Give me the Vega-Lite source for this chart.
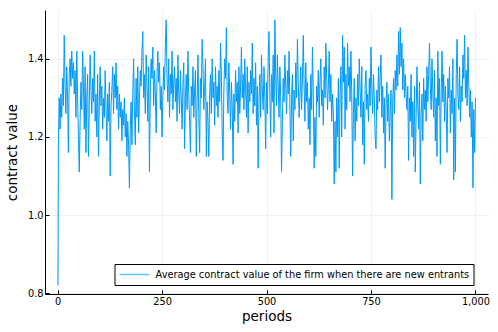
{"$schema":"https://vega.github.io/schema/vega-lite/v6.json","width":443,"height":284,"autosize":{"type":"none"},"padding":{"left":45,"top":10,"right":10,"bottom":38},"background":"white",
"config":{"view":{"stroke":null},"font":"DejaVu Sans","axis":{"domainColor":"black","domainWidth":1,"tickColor":"black","tickSize":-4,"gridColor":"#000000","gridOpacity":0.1,"gridWidth":0.6,"labelFont":"DejaVu Sans","labelFontSize":9.8,"labelColor":"black","titleFont":"DejaVu Sans","titleFontSize":13.5,"titleFontWeight":"normal","titleColor":"black"}},
"data":{"values":[
{"p":1,"v":0.82},
{"p":2,"v":1.18},{"p":4,"v":1.30},{"p":6,"v":1.22},{"p":8,"v":1.31},{"p":10,"v":1.25},{"p":12,"v":1.35},{"p":14,"v":1.28},{"p":16,"v":1.46},{"p":18,"v":1.33},{"p":20,"v":1.26},
{"p":22,"v":1.38},{"p":24,"v":1.30},{"p":26,"v":1.16},{"p":28,"v":1.36},{"p":30,"v":1.40},{"p":32,"v":1.33},{"p":34,"v":1.42},{"p":36,"v":1.35},{"p":38,"v":1.39},{"p":40,"v":1.31},
{"p":42,"v":1.37},{"p":44,"v":1.25},{"p":46,"v":1.42},{"p":48,"v":1.30},{"p":50,"v":1.20},{"p":52,"v":1.11},{"p":54,"v":1.24},{"p":56,"v":1.34},{"p":58,"v":1.27},{"p":60,"v":1.42},
{"p":62,"v":1.33},{"p":64,"v":1.22},{"p":66,"v":1.38},{"p":68,"v":1.16},{"p":70,"v":1.30},{"p":72,"v":1.36},{"p":74,"v":1.15},{"p":76,"v":1.28},{"p":78,"v":1.41},{"p":80,"v":1.32},
{"p":82,"v":1.26},{"p":84,"v":1.35},{"p":86,"v":1.29},{"p":88,"v":1.42},{"p":90,"v":1.24},{"p":92,"v":1.31},{"p":94,"v":1.20},{"p":96,"v":1.36},{"p":98,"v":1.15},{"p":100,"v":1.29},
{"p":102,"v":1.38},{"p":104,"v":1.28},{"p":106,"v":1.33},{"p":108,"v":1.22},{"p":110,"v":1.30},{"p":112,"v":1.25},{"p":114,"v":1.37},{"p":116,"v":1.27},{"p":118,"v":1.19},{"p":120,"v":1.31},
{"p":122,"v":1.24},{"p":124,"v":1.34},{"p":126,"v":1.10},{"p":128,"v":1.28},{"p":130,"v":1.32},{"p":132,"v":1.38},{"p":134,"v":1.26},{"p":136,"v":1.36},{"p":138,"v":1.30},{"p":140,"v":1.39},
{"p":142,"v":1.27},{"p":144,"v":1.33},{"p":146,"v":1.22},{"p":148,"v":1.31},{"p":150,"v":1.25},{"p":152,"v":1.29},{"p":154,"v":1.19},{"p":156,"v":1.27},{"p":158,"v":1.23},{"p":160,"v":1.30},
{"p":162,"v":1.20},{"p":164,"v":1.26},{"p":166,"v":1.15},{"p":168,"v":1.24},{"p":170,"v":1.18},{"p":172,"v":1.07},{"p":174,"v":1.22},{"p":176,"v":1.29},{"p":178,"v":1.18},{"p":180,"v":1.31},
{"p":182,"v":1.40},{"p":184,"v":1.27},{"p":186,"v":1.18},{"p":188,"v":1.35},{"p":190,"v":1.25},{"p":192,"v":1.38},{"p":194,"v":1.21},{"p":196,"v":1.30},{"p":198,"v":1.37},{"p":200,"v":1.33},
{"p":202,"v":1.42},{"p":204,"v":1.47},{"p":206,"v":1.30},{"p":208,"v":1.36},{"p":210,"v":1.26},{"p":212,"v":1.41},{"p":214,"v":1.33},{"p":216,"v":1.24},{"p":218,"v":1.38},{"p":220,"v":1.11},
{"p":222,"v":1.32},{"p":224,"v":1.40},{"p":226,"v":1.35},{"p":228,"v":1.43},{"p":230,"v":1.28},{"p":232,"v":1.37},{"p":234,"v":1.31},{"p":236,"v":1.21},{"p":238,"v":1.36},{"p":240,"v":1.42},
{"p":242,"v":1.34},{"p":244,"v":1.39},{"p":246,"v":1.27},{"p":248,"v":1.33},{"p":250,"v":1.20},{"p":252,"v":1.30},{"p":254,"v":1.38},{"p":256,"v":1.32},{"p":258,"v":1.44},{"p":260,"v":1.50},
{"p":262,"v":1.35},{"p":264,"v":1.29},{"p":266,"v":1.40},{"p":268,"v":1.25},{"p":270,"v":1.36},{"p":272,"v":1.31},{"p":274,"v":1.42},{"p":276,"v":1.27},{"p":278,"v":1.34},{"p":280,"v":1.38},
{"p":282,"v":1.29},{"p":284,"v":1.35},{"p":286,"v":1.24},{"p":288,"v":1.41},{"p":290,"v":1.31},{"p":292,"v":1.26},{"p":294,"v":1.37},{"p":296,"v":1.30},{"p":298,"v":1.22},{"p":300,"v":1.33},
{"p":302,"v":1.39},{"p":304,"v":1.17},{"p":306,"v":1.30},{"p":308,"v":1.36},{"p":310,"v":1.27},{"p":312,"v":1.42},{"p":314,"v":1.31},{"p":316,"v":1.24},{"p":318,"v":1.16},{"p":320,"v":1.33},
{"p":322,"v":1.28},{"p":324,"v":1.38},{"p":326,"v":1.25},{"p":328,"v":1.32},{"p":330,"v":1.37},{"p":332,"v":1.15},{"p":334,"v":1.29},{"p":336,"v":1.41},{"p":338,"v":1.26},{"p":340,"v":1.16},
{"p":342,"v":1.35},{"p":344,"v":1.30},{"p":346,"v":1.45},{"p":348,"v":1.38},{"p":350,"v":1.27},{"p":352,"v":1.33},{"p":354,"v":1.40},{"p":356,"v":1.15},{"p":358,"v":1.29},{"p":360,"v":1.24},
{"p":362,"v":1.15},{"p":364,"v":1.31},{"p":366,"v":1.36},{"p":368,"v":1.26},{"p":370,"v":1.40},{"p":372,"v":1.30},{"p":374,"v":1.34},{"p":376,"v":1.23},{"p":378,"v":1.38},{"p":380,"v":1.28},
{"p":382,"v":1.33},{"p":384,"v":1.25},{"p":386,"v":1.37},{"p":388,"v":1.29},{"p":390,"v":1.44},{"p":392,"v":1.36},{"p":394,"v":1.21},{"p":396,"v":1.14},{"p":398,"v":1.32},{"p":400,"v":1.40},
{"p":402,"v":1.35},{"p":404,"v":1.48},{"p":406,"v":1.30},{"p":408,"v":1.26},{"p":410,"v":1.39},{"p":412,"v":1.31},{"p":414,"v":1.22},{"p":416,"v":1.34},{"p":418,"v":1.28},{"p":420,"v":1.13},
{"p":422,"v":1.31},{"p":424,"v":1.24},{"p":426,"v":1.37},{"p":428,"v":1.29},{"p":430,"v":1.34},{"p":432,"v":1.21},{"p":434,"v":1.38},{"p":436,"v":1.26},{"p":438,"v":1.33},{"p":440,"v":1.43},
{"p":442,"v":1.30},{"p":444,"v":1.36},{"p":446,"v":1.27},{"p":448,"v":1.40},{"p":450,"v":1.32},{"p":452,"v":1.25},{"p":454,"v":1.38},{"p":456,"v":1.21},{"p":458,"v":1.34},{"p":460,"v":1.29},
{"p":462,"v":1.37},{"p":464,"v":1.31},{"p":466,"v":1.44},{"p":468,"v":1.26},{"p":470,"v":1.35},{"p":472,"v":1.28},{"p":474,"v":1.39},{"p":476,"v":1.23},{"p":478,"v":1.33},{"p":480,"v":1.12},
{"p":482,"v":1.29},{"p":484,"v":1.36},{"p":486,"v":1.25},{"p":488,"v":1.41},{"p":490,"v":1.32},{"p":492,"v":1.27},{"p":494,"v":1.38},{"p":496,"v":1.30},{"p":498,"v":1.17},{"p":500,"v":1.34},
{"p":502,"v":1.26},{"p":504,"v":1.40},{"p":506,"v":1.47},{"p":508,"v":1.31},{"p":510,"v":1.20},{"p":512,"v":1.36},{"p":514,"v":1.29},{"p":516,"v":1.41},{"p":518,"v":1.21},{"p":520,"v":1.50},
{"p":522,"v":1.36},{"p":524,"v":1.28},{"p":526,"v":1.41},{"p":528,"v":1.33},{"p":530,"v":1.25},{"p":532,"v":1.38},{"p":534,"v":1.30},{"p":536,"v":1.11},{"p":538,"v":1.24},{"p":540,"v":1.35},
{"p":542,"v":1.29},{"p":544,"v":1.41},{"p":546,"v":1.33},{"p":548,"v":1.26},{"p":550,"v":1.37},{"p":552,"v":1.31},{"p":554,"v":1.42},{"p":556,"v":1.28},{"p":558,"v":1.15},{"p":560,"v":1.30},
{"p":562,"v":1.36},{"p":564,"v":1.19},{"p":566,"v":1.32},{"p":568,"v":1.27},{"p":570,"v":1.39},{"p":572,"v":1.30},{"p":574,"v":1.45},{"p":576,"v":1.34},{"p":578,"v":1.25},{"p":580,"v":1.31},
{"p":582,"v":1.38},{"p":584,"v":1.27},{"p":586,"v":1.35},{"p":588,"v":1.46},{"p":590,"v":1.33},{"p":592,"v":1.24},{"p":594,"v":1.39},{"p":596,"v":1.29},{"p":598,"v":1.34},{"p":600,"v":1.22},
{"p":602,"v":1.30},{"p":604,"v":1.18},{"p":606,"v":1.36},{"p":608,"v":1.27},{"p":610,"v":1.43},{"p":612,"v":1.31},{"p":614,"v":1.12},{"p":616,"v":1.25},{"p":618,"v":1.15},{"p":620,"v":1.33},
{"p":622,"v":1.29},{"p":624,"v":1.37},{"p":626,"v":1.25},{"p":628,"v":1.34},{"p":630,"v":1.40},{"p":632,"v":1.28},{"p":634,"v":1.32},{"p":636,"v":1.23},{"p":638,"v":1.38},{"p":640,"v":1.30},
{"p":642,"v":1.44},{"p":644,"v":1.35},{"p":646,"v":1.27},{"p":648,"v":1.33},{"p":650,"v":1.42},{"p":652,"v":1.29},{"p":654,"v":1.36},{"p":656,"v":1.24},{"p":658,"v":1.31},{"p":660,"v":1.26},
{"p":662,"v":1.08},{"p":664,"v":1.24},{"p":666,"v":1.11},{"p":668,"v":1.30},{"p":670,"v":1.20},{"p":672,"v":1.35},{"p":674,"v":1.12},{"p":676,"v":1.31},{"p":678,"v":1.38},{"p":680,"v":1.20},
{"p":682,"v":1.46},{"p":684,"v":1.34},{"p":686,"v":1.43},{"p":688,"v":1.22},{"p":690,"v":1.36},{"p":692,"v":1.27},{"p":694,"v":1.44},{"p":696,"v":1.33},{"p":698,"v":1.38},{"p":700,"v":1.29},
{"p":702,"v":1.42},{"p":704,"v":1.31},{"p":706,"v":1.10},{"p":708,"v":1.26},{"p":710,"v":1.35},{"p":712,"v":1.19},{"p":714,"v":1.30},{"p":716,"v":1.24},{"p":718,"v":1.36},{"p":720,"v":1.28},
{"p":722,"v":1.40},{"p":724,"v":1.32},{"p":726,"v":1.25},{"p":728,"v":1.38},{"p":730,"v":1.18},{"p":732,"v":1.29},{"p":734,"v":1.13},{"p":736,"v":1.33},{"p":738,"v":1.37},{"p":740,"v":1.27},
{"p":742,"v":1.31},{"p":744,"v":1.24},{"p":746,"v":1.35},{"p":748,"v":1.28},{"p":750,"v":1.43},{"p":752,"v":1.33},{"p":754,"v":1.26},{"p":756,"v":1.36},{"p":758,"v":1.30},{"p":760,"v":1.20},
{"p":762,"v":1.17},{"p":764,"v":1.32},{"p":766,"v":1.27},{"p":768,"v":1.38},{"p":770,"v":1.29},{"p":772,"v":1.35},{"p":774,"v":1.41},{"p":776,"v":1.25},{"p":778,"v":1.33},{"p":780,"v":1.21},
{"p":782,"v":1.30},{"p":784,"v":1.12},{"p":786,"v":1.28},{"p":788,"v":1.34},{"p":790,"v":1.24},{"p":792,"v":1.31},{"p":794,"v":1.19},{"p":796,"v":1.27},{"p":798,"v":1.32},{"p":800,"v":1.04},
{"p":802,"v":1.29},{"p":804,"v":1.35},{"p":806,"v":1.26},{"p":808,"v":1.37},{"p":810,"v":1.32},{"p":812,"v":1.41},{"p":814,"v":1.33},{"p":816,"v":1.47},{"p":818,"v":1.36},{"p":820,"v":1.48},
{"p":822,"v":1.38},{"p":824,"v":1.44},{"p":826,"v":1.32},{"p":828,"v":1.40},{"p":830,"v":1.30},{"p":832,"v":1.36},{"p":834,"v":1.31},{"p":836,"v":1.27},{"p":838,"v":1.33},{"p":840,"v":1.14},
{"p":842,"v":1.30},{"p":844,"v":1.24},{"p":846,"v":1.36},{"p":848,"v":1.20},{"p":850,"v":1.29},{"p":852,"v":1.15},{"p":854,"v":1.33},{"p":856,"v":1.11},{"p":858,"v":1.25},{"p":860,"v":1.38},
{"p":862,"v":1.28},{"p":864,"v":1.22},{"p":866,"v":1.34},{"p":868,"v":1.08},{"p":870,"v":1.26},{"p":872,"v":1.31},{"p":874,"v":1.19},{"p":876,"v":1.35},{"p":878,"v":1.27},{"p":880,"v":1.32},
{"p":882,"v":1.24},{"p":884,"v":1.38},{"p":886,"v":1.29},{"p":888,"v":1.36},{"p":890,"v":1.44},{"p":892,"v":1.33},{"p":894,"v":1.27},{"p":896,"v":1.40},{"p":898,"v":1.31},{"p":900,"v":1.25},
{"p":902,"v":1.37},{"p":904,"v":1.19},{"p":906,"v":1.30},{"p":908,"v":1.15},{"p":910,"v":1.42},{"p":912,"v":1.28},{"p":914,"v":1.35},{"p":916,"v":1.13},{"p":918,"v":1.31},{"p":920,"v":1.42},
{"p":922,"v":1.29},{"p":924,"v":1.36},{"p":926,"v":1.24},{"p":928,"v":1.33},{"p":930,"v":1.27},{"p":932,"v":1.16},{"p":934,"v":1.35},{"p":936,"v":1.30},{"p":938,"v":1.38},{"p":940,"v":1.21},
{"p":942,"v":1.32},{"p":944,"v":1.26},{"p":946,"v":1.40},{"p":948,"v":1.09},{"p":950,"v":1.30},{"p":952,"v":1.11},{"p":954,"v":1.36},{"p":956,"v":1.45},{"p":958,"v":1.31},{"p":960,"v":1.27},
{"p":962,"v":1.38},{"p":964,"v":1.24},{"p":966,"v":1.33},{"p":968,"v":1.29},{"p":970,"v":1.41},{"p":972,"v":1.35},{"p":974,"v":1.46},{"p":976,"v":1.30},{"p":978,"v":1.37},{"p":980,"v":1.28},
{"p":982,"v":1.43},{"p":984,"v":1.34},{"p":986,"v":1.25},{"p":988,"v":1.32},{"p":990,"v":1.20},{"p":992,"v":1.29},{"p":994,"v":1.07},{"p":996,"v":1.27},{"p":998,"v":1.16},{"p":1000,"v":1.30}
]},
"mark":{"type":"line","strokeWidth":1,"clip":true},
"encoding":{
"x":{"field":"p","type":"quantitative","title":"periods","scale":{"domain":[-30,1030],"nice":false,"zero":false},"axis":{"values":[0,250,500,750,1000],"labelPadding":6,"titlePadding":4,"labelFlush":false}},
"y":{"field":"v","type":"quantitative","title":"contract value","scale":{"domain":[0.798,1.525],"nice":false,"zero":false},"axis":{"values":[0.8,1.0,1.2,1.4],"format":".1f","labelPadding":6,"titlePadding":8,"labelFlush":false}},
"color":{"datum":"Average contract value of the firm when there are new entrants","type":"nominal","scale":{"range":["#009AFA"]},"legend":{"title":null,"orient":"none","legendX":69.5,"legendY":254,"strokeColor":"black","fillColor":"white","padding":4,"clipHeight":13,"symbolType":"stroke","symbolSize":900,"symbolStrokeWidth":1.5,"symbolOpacity":0.6,"labelFont":"DejaVu Sans","labelFontSize":9.8,"labelColor":"black","labelOffset":5,"labelLimit":0}}
}}
